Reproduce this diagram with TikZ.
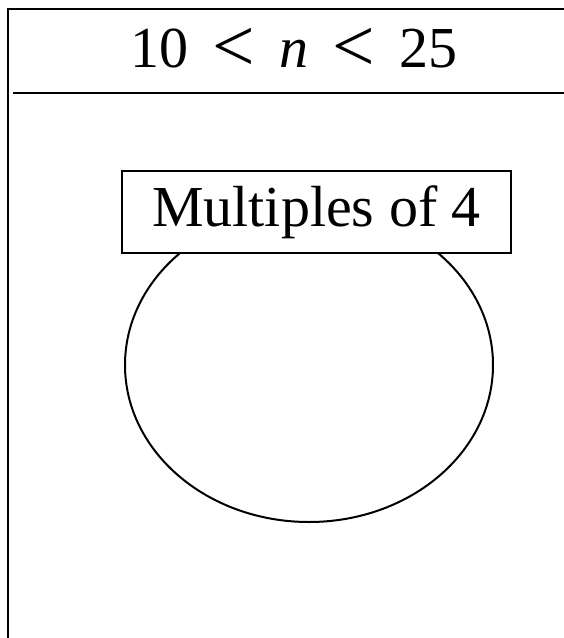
\documentclass[tikz,border=0pt]{standalone}
\usepackage{fontspec}
\setmainfont{Liberation Serif}
\usetikzlibrary{positioning,shapes.geometric}
\newcommand{\lessop}{\raisebox{-4pt}{\scalebox{1.3}{<}}}

\begin{document}
\begin{tikzpicture}[x=1pt,y=-1pt,
  big/.style={font=\fontsize{58}{60}\selectfont,inner sep=0pt},
  setbox/.style={draw,line width=2.2pt,fill=white,minimum width=389pt,minimum height=82pt,big}]
\useasboundingbox (0,0) rectangle (564,638);
\clip (0,0) rectangle (564,638);
% universal set
\draw[line width=2.8pt] (8,660) -- (8,9) -- (600,9);
\draw[line width=2.6pt] (13,93) -- (600,93);
\node[big] (title) at (294,50) {10\hspace{0.42em}\lessop\hspace{0.42em}\textit{n}\hspace{0.42em}\lessop\hspace{0.42em}25};
% set and its label
\node[draw,ellipse,line width=2pt,minimum width=368pt,minimum height=314pt,inner sep=0pt] (setA) at (309,365) {};
\node[setbox] (setlabel) at (316.5,212) {Multiples of 4};
\end{tikzpicture}
\end{document}
